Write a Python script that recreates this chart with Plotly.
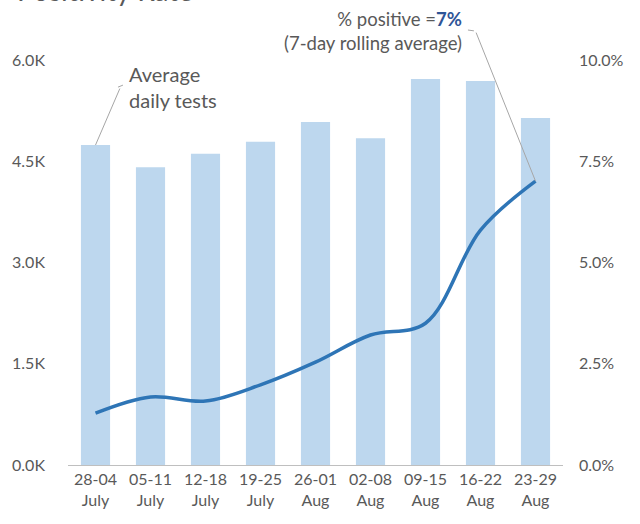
import plotly.graph_objects as go

weeks = ["28-04", "05-11", "12-18", "19-25", "26-01", "02-08", "09-15", "16-22", "23-29"]
months = ["July", "July", "July", "July", "Aug", "Aug", "Aug", "Aug", "Aug"]
avg_daily_tests = [4740, 4410, 4610, 4790, 5080, 4840, 5720, 5690, 5140]
pct_positive = [1.28, 1.68, 1.58, 1.98, 2.54, 3.21, 3.50, 5.80, 7.01]
left_ticks = [0, 1500, 3000, 4500, 6000]
left_tick_text = ["0.0K", "1.5K", "3.0K", "4.5K", "6.0K"]
right_ticks = [0, 2.5, 5.0, 7.5, 10.0]
right_tick_text = ["0.0%", "2.5%", "5.0%", "7.5%", "10.0%"]

cats = [f"{w}<br>{m}" for w, m in zip(weeks, months)]
FONT = "Lato, 'Open Sans', sans-serif"
GREY = "#595959"

fig = go.Figure()
fig.add_trace(go.Bar(x=cats, y=avg_daily_tests, marker_color="#BDD7EE",
                     marker_line_width=0, yaxis="y"))
fig.add_trace(go.Scatter(x=cats, y=pct_positive, mode="lines", yaxis="y2",
                         line=dict(color="#2E75B6", width=3.5, shape="spline", smoothing=1.0)))

# leader lines
fig.add_annotation(x=cats[0], y=avg_daily_tests[0], xref="x", yref="y", text="",
                   showarrow=True, arrowhead=0, arrowwidth=1, arrowcolor="#A6A6A6",
                   ax=25, ay=-58)
fig.add_shape(type="line", xref="paper", yref="paper", x0=0.101, y0=0.933, x1=0.111, y1=0.938,
              line=dict(color="#A6A6A6", width=1))
fig.add_annotation(x=0.119, y=0.933, xref="paper", yref="paper", xanchor="left", yanchor="middle",
                   align="left", showarrow=False, text="Average<br>daily tests",
                   font=dict(size=20, color=GREY, family=FONT))

fig.add_annotation(x=cats[-1], y=pct_positive[-1], xref="x", yref="y2", text="",
                   showarrow=True, arrowhead=0, arrowwidth=1, arrowcolor="#A6A6A6",
                   ax=-60, ay=-150)
fig.add_shape(type="line", xref="paper", yref="paper", x0=0.808, y0=1.074, x1=0.820, y1=1.072,
              line=dict(color="#A6A6A6", width=1))
fig.add_annotation(x=0.800, y=1.072, xref="paper", yref="paper", xanchor="right", yanchor="middle",
                   align="right", showarrow=False,
                   text=f"% positive =<b><span style='color:#2F5597'>{round(pct_positive[-1])}%</span></b><br>(7-day rolling average)",
                   font=dict(size=18.5, color=GREY, family=FONT))

fig.add_annotation(x=-0.107, y=1.126, xref="paper", yref="paper", xanchor="left", yanchor="bottom",
                   showarrow=False, text="Positivity Rate",
                   font=dict(size=28, color=GREY, family=FONT))

fig.update_layout(
    width=640, height=524,
    margin=dict(l=68, r=77, t=60, b=59),
    paper_bgcolor="white", plot_bgcolor="white",
    showlegend=False, bargap=0.47,
    font=dict(family=FONT, color=GREY, size=16),
    xaxis=dict(showgrid=False, showline=True, linecolor="#BFBFBF", linewidth=1,
               ticks="", tickfont=dict(size=16, color=GREY)),
    yaxis=dict(range=[0, 6000], tickvals=left_ticks, ticktext=left_tick_text,
               showgrid=False, zeroline=False, showline=False, ticks="",
               ticklabelstandoff=22, tickfont=dict(size=16, color=GREY)),
    yaxis2=dict(range=[0, 10], tickvals=right_ticks, ticktext=right_tick_text,
                overlaying="y", side="right", showgrid=False, zeroline=False,
                showline=False, ticks="", ticklabelstandoff=15,
                tickfont=dict(size=16, color=GREY)),
)

fig.write_html("out.html", config={"displayModeBar": False},
               post_script="document.body.style.margin='0';")
